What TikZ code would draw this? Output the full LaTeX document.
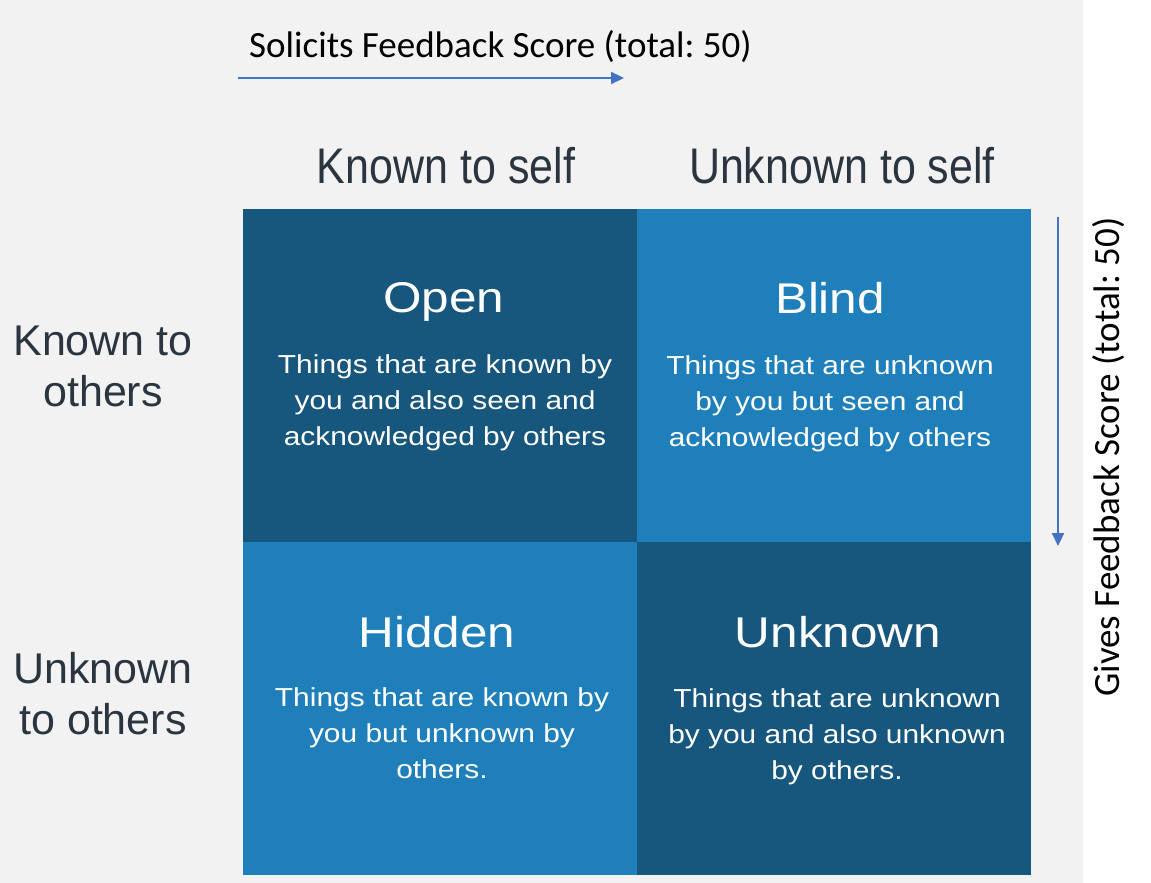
\documentclass[tikz,border=0pt]{standalone}
\usepackage{fontspec}
\setmainfont{Liberation Sans}
\newfontfamily\calib{Carlito}
\usetikzlibrary{arrows.meta}
\frenchspacing
\definecolor{bgray}{HTML}{F2F2F2}
\definecolor{qdark}{HTML}{17567D}
\definecolor{qlight}{HTML}{1F7FBB}
\definecolor{hdrcol}{HTML}{2B3540}
\definecolor{arrcol}{HTML}{4472C4}
\newcommand{\wtext}[2]{\scalebox{#1}[1]{\begin{tabular}{@{}c@{}}#2\end{tabular}}}
\begin{document}
\begin{tikzpicture}[x=1pt,y=-1pt,
 quad/.style={draw=none, minimum width=394pt, minimum height=333pt, inner sep=0pt, outer sep=0pt},
 qtitle/.style={text=white, font=\fontsize{43}{50}\selectfont, inner sep=0pt, anchor=base},
 qbody/.style={text=white, font=\fontsize{26}{36}\selectfont, inner sep=0pt, anchor=center},
 hdrlab/.style={text=hdrcol, font=\fontsize{50}{58}\selectfont, inner sep=0pt, anchor=base},
 rowlab/.style={text=hdrcol, font=\fontsize{43}{51}\selectfont, inner sep=0pt, anchor=center},
 axlab/.style={text=black, font=\calib\fontsize{37}{44}\selectfont, inner sep=0pt},
 axarrow/.style={draw=arrcol, line width=2.2pt, -{Triangle[length=13pt,width=12pt]}}]
\fill[white] (0,0) rectangle (1151,883);
\fill[bgray] (0,0) rectangle (1083,883);
% quadrants
\node[quad, fill=qdark]  (open)    at (440,375.5) {};
\node[quad, fill=qlight] (blind)   at (834,375.5) {};
\node[quad, fill=qlight] (hidden)  at (440,708.5) {};
\node[quad, fill=qdark]  (unknown) at (834,708.5) {};
% titles
\node[qtitle] (topen)    at (444,312) {\scalebox{1.15}[1]{Open}};
\node[qtitle] (tblind)   at (830,313) {\scalebox{1.15}[1]{Blind}};
\node[qtitle] (thidden)  at (437,647) {\scalebox{1.15}[1]{Hidden}};
\node[qtitle] (tunknown) at (838,647) {\scalebox{1.15}[1]{Unknown}};
% bodies
\node[qbody] (bopen)    at (445,402) {\wtext{1.15}{Things that are known by\\you and also seen and\\acknowledged by others}};
\node[qbody] (bblind)   at (830,403) {\wtext{1.15}{Things that are unknown\\by you but seen and\\acknowledged by others}};
\node[qbody] (bhidden)  at (442,735) {\wtext{1.15}{Things that are known by\\you but unknown by\\others.}};
\node[qbody] (bunknown) at (837,736) {\wtext{1.15}{Things that are unknown\\by you and also unknown\\by others.}};
% headers
\node[hdrlab] (hknown)   at (446,183) {\scalebox{0.86}[1]{Known to self}};
\node[hdrlab] (hunknown) at (842,183) {\scalebox{0.86}[1]{Unknown to self}};
\node[rowlab] (rknown)   at (103,371) {\begin{tabular}{@{}c@{}}Known to\\others\end{tabular}};
\node[rowlab] (runknown) at (103,699) {\begin{tabular}{@{}c@{}}Unknown\\to others\end{tabular}};
% axes
\coordinate (h1) at (238,78);
\coordinate (h2) at (624,78);
\draw[axarrow] (h1) -- (h2);
\node[axlab, anchor=base west] (solicit) at (249,58) {Solicits Feedback Score (total: 50)};
\coordinate (v1) at (1058,217);
\coordinate (v2) at (1058,546);
\draw[axarrow] (v1) -- (v2);
\node[axlab, rotate=90, anchor=base west] (gives) at (1119,697) {Gives Feedback Score (total: 50)};
\end{tikzpicture}
\end{document}
